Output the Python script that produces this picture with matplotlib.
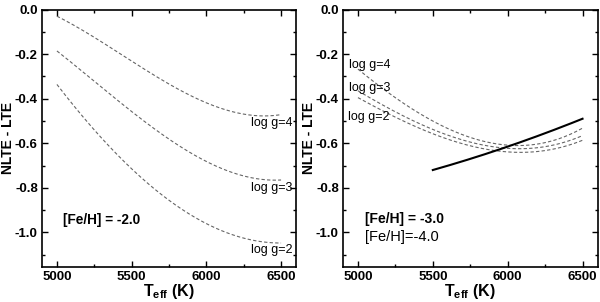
import numpy as np
import matplotlib.pyplot as plt
from matplotlib.ticker import MultipleLocator

plt.rcParams['font.family'] = ['Liberation Sans', 'DejaVu Sans']
plt.rcParams['mathtext.fontset'] = 'custom'
plt.rcParams['mathtext.rm'] = 'Liberation Sans'
plt.rcParams['mathtext.bf'] = 'Liberation Sans:bold'

teff = [5000, 5250, 5500, 5750, 6000, 6250, 6500]

# [Fe/H] = -2.0
fe2_g4 = [-0.03, -0.13, -0.215, -0.35, -0.42, -0.46, -0.475]
fe2_g3 = [-0.19, -0.315, -0.45, -0.60, -0.68, -0.735, -0.77]
fe2_g2 = [-0.34, -0.53, -0.72, -0.86, -0.96, -1.02, -1.05]

# [Fe/H] = -3.0
fe3_g4 = [-0.27, -0.39, -0.50, -0.58, -0.61, -0.59, -0.535]
fe3_g3 = [-0.37, -0.445, -0.545, -0.60, -0.625, -0.605, -0.57]
fe3_g2 = [-0.40, -0.47, -0.565, -0.615, -0.64, -0.625, -0.59]

# [Fe/H] = -4.0
teff4 = [5500, 5750, 6000, 6250, 6500]
fe4 = [-0.72, -0.67, -0.615, -0.555, -0.49]

LABELS = ['log g=4', 'log g=3', 'log g=2']
YTICKS = [-1.0, -0.8, -0.6, -0.4, -0.2, 0.0]
YTICKLABELS = ['-1.0', '-0.8', '-0.6', '-0.4', '-0.2', '0.0']
XTICKS = [5000, 5500, 6000, 6500]


def smooth(x, y):
    xs = np.linspace(x[0], x[-1], 200)
    c = np.polyfit(x, y, 3)
    return xs, np.polyval(c, xs)


def style(ax):
    ax.set_xlim(4900, 6600)
    ax.set_ylim(-1.155, 0.0)
    ax.xaxis.set_minor_locator(MultipleLocator(250))
    ax.yaxis.set_minor_locator(MultipleLocator(0.1))
    ax.tick_params(which='both', direction='in', top=True, right=True, width=1)
    ax.tick_params(which='major', length=4, labelsize=9.5, pad=3)
    ax.tick_params(which='minor', length=2.5)
    ax.set_yticks(YTICKS)
    ax.set_yticklabels(YTICKLABELS, fontweight='bold')
    ax.set_xticks(XTICKS)
    ax.set_xticklabels([str(v) for v in XTICKS], fontweight='bold')
    for s in ax.spines.values():
        s.set_linewidth(1.2)
    ax.set_ylabel('NLTE - LTE', fontsize=10, fontweight='bold')
    ax.yaxis.set_label_coords(-0.105, 0.5)
    ax.set_xlabel(r'$\mathbf{T_{eff}}$ (K)', fontsize=11.5, fontweight='bold', labelpad=-1)


fig = plt.figure(figsize=(6.0, 3.02), dpi=100)
ax1 = fig.add_axes([42 / 600, 35 / 302, 254 / 600, 257.5 / 302])
ax2 = fig.add_axes([343 / 600, 35 / 302, 254.5 / 600, 257.5 / 302])

dash = dict(color='#666666', lw=0.8, dashes=(3, 2))

for y in (fe2_g4, fe2_g3, fe2_g2):
    ax1.plot(*smooth(teff, y), **dash)
for lab, yy in zip(LABELS, (-0.51, -0.80, -1.08)):
    ax1.text(6575, yy, lab, fontsize=9, ha='right', va='center')
ax1.text(5040, -0.945, '[Fe/H] = -2.0', fontsize=9.8, fontweight='bold', va='center')
style(ax1)

for y in (fe3_g4, fe3_g3, fe3_g2):
    ax2.plot(*smooth(teff, y), **dash)
ax2.plot(*smooth(teff4, fe4), color='black', lw=1.5)
for lab, yy, xx in zip(LABELS, (-0.25, -0.354, -0.48), (4938, 4938, 4932)):
    ax2.text(xx, yy, lab, fontsize=9, ha='left', va='center')
ax2.text(5050, -0.94, '[Fe/H] = -3.0', fontsize=10, fontweight='bold', va='center')
ax2.text(5050, -1.02, '[Fe/H]=-4.0', fontsize=10.5, va='center')
style(ax2)

fig.savefig('out.png', dpi=100)
